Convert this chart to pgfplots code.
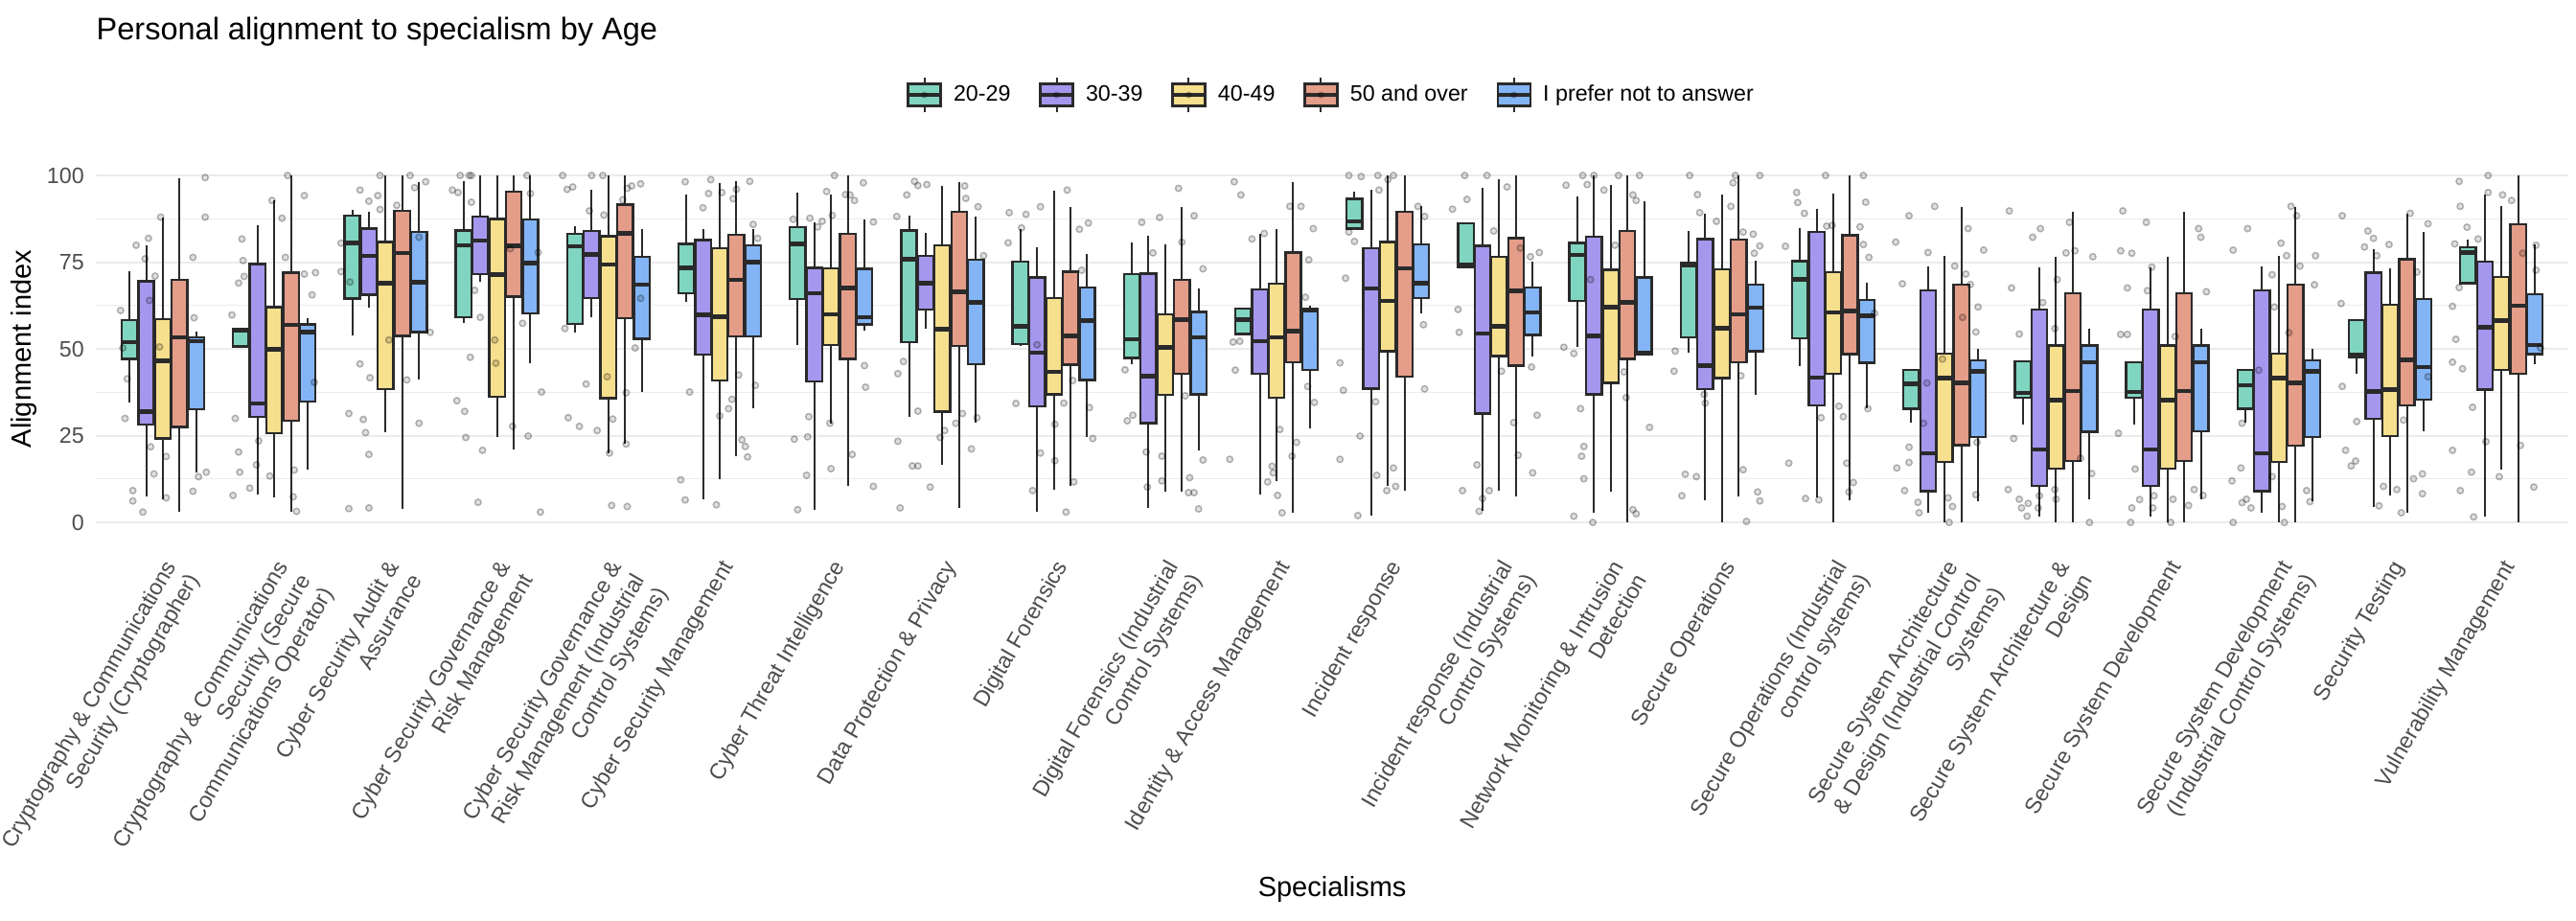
\documentclass[border=0pt]{standalone}
\usepackage{fontspec}
\setmainfont{Liberation Sans}
\usepackage{pgfplots}
\usepackage{pgfplotstable}
\usepgfplotslibrary{statistics}
\pgfplotsset{compat=1.18}

\definecolor{cA}{HTML}{80D5C0}
\definecolor{cB}{HTML}{A597EE}
\definecolor{cC}{HTML}{F6DF8D}
\definecolor{cD}{HTML}{E49D89}
\definecolor{cE}{HTML}{83B4F5}
\definecolor{bxline}{HTML}{2A2A2A}
\definecolor{gridgray}{HTML}{EBEBEB}
\definecolor{tickgray}{HTML}{4D4D4D}

% lower whisker, lower quartile, median, upper quartile, upper whisker
% one table per age group, one row per specialism
\pgfplotstableread{
lw q1 med q3 uw
34.6 47.1 52.0 58.4 72.5
50.7 50.7 55.4 55.9 55.9
53.8 64.5 80.5 88.4 90.0
57.5 59.1 79.9 84.2 98.5
54.8 57.2 79.6 83.1 85.4
63.7 66.0 73.4 80.3 94.6
51.2 64.4 80.3 85.1 95.1
30.5 51.9 75.9 84.2 88.4
50.8 51.4 56.5 75.1 84.5
45.7 47.4 52.8 71.6 80.6
54.3 54.3 58.4 61.6 61.6
84.7 84.7 86.8 93.3 95.4
73.7 73.7 74.3 86.3 86.3
50.5 63.9 77.1 80.6 93.9
48.9 53.4 74.1 74.8 84.0
45.2 53.1 70.0 75.3 84.8
28.8 32.8 40.0 43.9 43.9
28.2 36.0 37.4 46.4 46.4
28.2 36.0 37.6 46.2 46.2
28.8 32.8 39.5 43.9 43.9
42.8 47.7 48.3 58.4 58.4
69.0 69.0 77.8 79.4 81.5
}\gA
\pgfplotstableread{
lw q1 med q3 uw
7.4 28.3 32.0 69.5 79.9
8.0 30.5 34.3 74.5 85.6
61.9 65.6 76.8 84.7 89.6
69.4 71.5 81.3 88.2 100
59.1 64.6 77.3 84.0 96.0
6.7 48.3 59.8 81.4 84.5
3.7 40.6 66.0 73.4 86.5
55.9 61.4 69.0 76.8 83.4
3.2 33.4 48.9 70.6 79.4
4.2 28.6 42.2 71.7 82.6
8.0 42.9 52.2 67.1 83.1
2.1 38.6 67.4 79.1 95.8
3.4 31.4 54.5 79.7 96.5
2.8 36.9 53.8 82.4 100
6.5 38.5 45.2 81.7 89.1
7.1 33.7 41.8 83.8 90.5
2.8 9.0 19.9 66.9 73.9
1.8 10.6 21.0 61.4 73.4
1.8 10.6 21.0 61.4 73.4
2.8 9.0 19.9 66.9 73.9
4.6 29.8 37.7 72.0 78.7
1.8 38.3 56.3 75.1 94.4
}\gB
\pgfplotstableread{
lw q1 med q3 uw
6.7 24.2 46.6 58.6 88.0
7.1 25.8 49.9 62.1 92.8
25.9 38.5 69.0 80.8 100
24.5 36.3 71.4 87.5 100
20.0 35.8 74.3 82.5 100
12.5 40.9 59.3 79.1 97.9
28.6 51.2 60.0 73.2 94.4
16.6 31.9 55.7 79.9 97.0
9.5 36.9 43.4 64.6 95.6
8.8 36.8 50.5 60.0 80.1
12.0 36.0 53.4 68.8 84.5
10.6 49.4 63.9 80.8 100
9.2 48.0 56.5 76.6 98.8
8.8 40.2 62.1 72.8 97.4
0 41.6 56.0 72.9 94.5
0 42.8 60.5 72.2 94.9
0 17.5 41.6 48.7 76.8
0 15.5 35.3 51.0 76.6
0 15.5 35.3 51.0 76.6
0 17.5 41.6 48.7 76.8
7.7 24.9 38.3 62.8 73.2
15.1 44.0 58.2 70.8 91.1
}\gC
\pgfplotstableread{
lw q1 med q3 uw
3.0 27.5 53.3 69.9 99.1
3.2 29.3 57.0 72.0 100
4.0 53.8 77.6 89.8 100
21.0 65.1 79.7 95.4 100
22.6 58.8 83.3 91.6 100
19.1 53.7 69.9 82.9 98.5
10.6 47.1 67.6 83.1 100
4.3 50.8 66.5 89.6 98.2
10.6 45.5 53.7 72.3 90.8
9.0 42.9 58.4 69.9 90.8
2.8 46.2 55.1 77.8 98.2
9.2 42.0 73.2 89.6 100
7.4 45.2 66.7 81.9 100
0 47.1 63.4 84.0 100
7.4 46.2 60.0 81.5 100
6.5 48.5 60.9 82.8 100
0 22.3 40.2 68.5 91.0
0 17.7 37.9 66.0 89.6
0 17.7 37.9 66.0 89.6
0 22.2 40.2 68.5 91.0
2.8 33.7 46.8 75.9 88.9
0 42.8 62.5 85.9 100
}\gD
\pgfplotstableread{
lw q1 med q3 uw
14.3 32.6 52.2 53.3 54.9
15.1 34.9 54.9 57.1 58.8
41.1 54.9 69.3 83.7 98.2
45.9 60.3 74.8 87.4 100
37.6 52.9 68.5 76.6 84.5
32.8 53.7 75.0 79.9 84.7
55.4 57.1 59.1 73.1 87.3
28.8 45.7 63.4 75.7 88.2
24.5 41.1 58.2 67.7 77.3
20.8 36.9 53.3 60.7 67.4
27.1 43.9 61.1 61.7 62.5
60.3 64.6 69.0 80.1 91.1
47.8 54.0 60.5 67.7 75.1
48.3 48.3 48.9 70.6 92.6
36.9 49.4 61.9 68.6 75.4
32.8 46.0 59.6 64.2 69.0
6.0 24.7 43.6 46.8 50.0
6.6 26.1 46.2 51.0 55.9
6.6 26.3 46.2 51.0 55.9
6.0 24.7 43.6 46.8 50.0
26.3 35.4 44.8 64.4 83.7
45.7 48.5 51.2 65.7 80.1
}\gE

% jittered respondents (x = specialism position, y = index)
\pgfplotstableread{
x y
0.62 61.1
0.64 50.3
0.68 41.4
0.66 30.0
0.73 9.2
0.73 6.2
0.82 3.0
0.76 79.9
0.87 81.9
0.84 76.0
0.88 64.0
0.93 71.0
0.89 21.8
0.92 14.0
0.98 88.0
0.97 50.6
1.03 19.0
1.03 7.1
1.27 76.4
1.28 59.0
1.27 9.0
1.32 13.2
1.38 99.4
1.38 88.0
1.39 14.5
1.63 7.8
1.65 30.0
1.68 20.3
1.69 14.5
1.62 59.8
1.71 81.7
1.72 75.5
1.68 69.0
1.73 70.9
1.78 9.9
1.84 16.6
1.86 23.5
1.96 13.4
1.98 92.8
2.07 87.7
2.12 100
2.10 76.4
2.18 15.1
2.17 7.4
2.27 94.2
2.27 71.6
2.34 65.6
2.37 72.0
2.36 40.4
2.20 3.2
2.67 4.0
2.67 31.4
2.60 80.5
2.60 72.3
2.68 69.3
2.77 95.8
2.77 45.7
2.80 29.7
2.82 25.9
2.85 19.6
2.85 4.2
2.85 92.6
2.93 94.2
2.95 90.2
2.95 100
2.86 41.7
3.03 52.6
3.10 91.4
3.19 41.1
3.22 100
3.26 96.5
3.36 98.2
3.30 28.6
3.40 54.8
3.30 82.2
3.60 95.8
3.65 95.1
3.67 100
3.75 100
3.77 100
3.64 35.1
3.71 32.0
3.72 24.5
3.76 47.6
3.83 5.8
3.87 20.8
3.85 59.1
3.77 92.3
3.80 66.9
3.98 52.6
3.99 45.9
4.14 27.7
4.12 78.9
4.27 100
4.30 94.8
4.28 24.9
4.23 57.4
4.40 37.6
4.39 3.0
4.37 77.8
4.59 100
4.63 96.0
4.68 96.7
4.61 55.9
4.64 30.2
4.74 27.7
4.80 39.9
4.85 100
4.83 89.8
4.90 26.5
4.95 100
4.96 88.6
5.01 20.0
5.03 4.9
4.99 42.0
5.04 29.8
5.13 93.0
5.17 96.3
5.21 97.0
5.16 37.4
5.16 22.6
5.17 4.6
5.29 97.6
5.29 64.6
5.24 50.3
5.69 98.2
5.65 12.3
5.69 6.5
5.73 37.6
5.85 90.7
5.90 94.8
5.92 98.8
6.00 30.7
5.97 5.1
6.02 95.1
6.08 32.8
6.11 35.5
6.15 96.0
6.12 93.3
6.17 42.5
6.20 23.8
6.23 21.9
6.25 18.9
6.27 98.3
6.34 81.9
6.32 39.5
6.30 85.9
6.66 87.4
6.67 24.0
6.70 3.7
6.78 13.6
6.79 24.7
6.80 30.5
6.81 87.7
6.88 85.2
6.92 86.8
6.96 95.4
7.00 15.5
7.01 88.5
6.99 28.6
7.03 100
7.13 94.5
7.17 94.4
7.21 92.8
7.19 19.6
7.29 97.9
7.30 45.2
7.31 39.0
7.38 10.4
7.38 86.6
7.59 88.2
7.62 4.2
7.60 23.4
7.60 42.9
7.65 46.4
7.68 94.4
7.75 98.3
7.78 97.1
7.78 32.1
7.86 97.4
7.73 16.3
7.78 16.3
7.89 10.2
8.02 26.5
7.98 24.5
8.12 28.6
8.18 31.4
8.20 97.0
8.21 93.4
8.26 21.2
8.32 91.0
8.37 76.9
8.31 30.2
8.60 89.3
8.59 80.6
8.66 34.3
8.71 84.9
8.75 88.8
8.81 9.2
8.85 51.2
8.88 20.0
8.88 91.0
9.01 17.8
9.01 28.3
9.09 34.4
9.12 95.8
9.11 3.0
9.18 11.7
9.17 40.9
9.23 84.5
9.25 72.7
9.32 33.1
9.31 86.3
9.35 24.2
9.64 44.0
9.66 29.3
9.71 30.9
9.79 86.5
9.83 20.3
9.84 10.2
9.89 77.7
9.95 87.9
9.97 19.1
9.97 12.0
10.12 96.3
10.15 80.8
10.18 36.5
10.22 12.9
10.21 8.6
10.26 8.6
10.26 88.4
10.30 3.9
10.34 73.1
10.34 18.0
10.58 18.2
10.61 52.0
10.63 43.9
10.62 98.2
10.68 94.4
10.67 52.2
10.78 81.7
10.89 83.3
10.92 11.7
10.97 14.3
11.01 7.8
11.03 26.8
11.05 2.8
10.96 16.2
11.12 91.1
11.22 91.1
11.18 23.1
11.14 19.1
11.29 75.7
11.33 84.7
11.26 64.9
11.34 34.6
11.28 39.2
11.57 18.2
11.57 46.0
11.60 38.1
11.62 70.4
11.65 100
11.65 83.7
11.70 81.0
11.73 2.0
11.76 99.7
11.75 24.9
11.91 100
11.92 95.8
11.89 34.8
11.90 13.6
11.99 9.2
12.00 98.8
12.05 100
12.05 15.7
12.07 10.4
12.27 91.1
12.33 88.2
12.33 38.5
12.32 57.0
12.58 90.3
12.63 61.4
12.64 54.8
12.67 9.2
12.69 100
12.71 93.1
12.80 16.6
12.82 3.2
12.85 6.9
12.89 100
12.91 9.2
12.95 84.0
13.02 43.6
13.07 96.7
13.13 28.8
13.17 19.4
13.19 79.1
13.28 76.6
13.29 44.8
13.30 14.3
13.34 30.9
13.36 77.8
13.58 50.5
13.60 97.2
13.67 48.7
13.67 1.8
13.73 32.8
13.74 19.1
13.76 21.9
13.76 12.6
13.75 100
13.79 97.4
13.82 70.0
13.85 100
13.84 0
13.94 95.8
14.04 79.9
14.07 100
14.12 43.4
14.14 36.0
14.20 94.4
14.23 92.8
14.20 3.7
14.23 2.5
14.26 100
14.35 27.4
14.57 43.6
14.58 49.4
14.64 7.7
14.67 13.9
14.71 100
14.77 13.2
14.78 94.5
14.80 89.3
14.84 36.9
14.85 34.4
14.95 86.8
15.08 91.1
15.10 97.9
15.12 100
15.19 83.7
15.19 15.2
15.22 0.3
15.28 83.1
15.29 77.6
15.32 8.8
15.34 6.2
15.34 100
15.34 79.7
15.17 42.3
15.57 79.6
15.60 17.1
15.67 95.1
15.68 92.2
15.74 89.1
15.75 6.9
15.87 6.5
15.89 30.2
15.93 100
15.94 85.4
15.99 85.6
16.05 33.5
16.09 30.5
16.12 17.1
16.14 8.8
16.18 11.5
16.24 85.2
16.27 100
16.29 92.3
16.32 76.4
16.31 32.8
16.27 80.1
16.37 60.3
16.56 80.8
16.62 68.8
16.68 88.4
16.64 9.2
16.57 15.7
16.68 17.3
16.68 21.7
16.76 5.8
16.77 2.8
16.84 40.2
16.85 77.8
16.91 91.1
16.81 28.6
16.98 47.1
17.03 7.1
17.07 4.6
17.04 0
17.09 73.9
17.16 59.1
17.19 71.6
17.21 84.7
17.23 68.6
17.28 54.9
17.30 62.1
17.29 23.1
17.35 78.5
17.28 8.0
17.58 89.8
17.57 9.5
17.60 67.6
17.62 24.2
17.67 54.3
17.67 6.7
17.69 4.2
17.74 1.8
17.75 5.5
17.79 82.2
17.86 84.7
17.88 63.4
17.85 7.7
17.84 4.2
17.99 55.9
17.99 9.5
18.00 6.7
18.01 70.0
18.09 77.7
18.12 86.5
18.17 78.3
18.22 18.5
18.30 0
18.32 14.1
18.33 76.6
18.60 89.8
18.58 78.3
18.56 25.7
18.58 54.2
18.64 54.2
18.64 67.6
18.68 77.6
18.71 15.4
18.68 4.2
18.67 0
18.75 6.6
18.81 86.5
18.82 66.8
18.86 73.6
18.87 4.2
18.88 7.7
19.03 0
19.05 6.7
19.07 53.6
19.19 4.9
19.24 9.5
19.28 84.7
19.30 82.2
19.32 7.8
19.35 66.5
19.59 78.5
19.59 0
19.58 12.0
19.66 15.7
19.67 5.7
19.67 28.6
19.71 6.7
19.72 84.7
19.75 4.2
19.82 43.9
19.94 13.2
19.94 71.4
19.96 62.1
20.02 80.5
20.03 4.6
20.05 0
20.07 76.9
20.09 54.7
20.11 91.1
20.16 88.4
20.19 73.9
20.25 9.2
20.28 6.0
20.32 68.5
20.33 76.9
20.57 88.4
20.56 63.1
20.57 39.2
20.60 20.8
20.65 16.3
20.69 17.7
20.70 29.1
20.77 79.4
20.80 84.0
20.85 81.9
20.88 76.9
20.90 4.8
20.94 10.4
20.99 80.1
21.06 9.5
21.10 2.8
21.12 29.5
21.18 89.1
21.21 12.6
21.29 14.0
21.29 8.3
21.34 86.1
21.34 42.0
21.24 72.2
21.62 98.3
21.63 91.1
21.69 85.1
21.58 80.3
21.62 67.7
21.56 62.3
21.59 52.8
21.56 46.2
21.65 44.3
21.56 20.8
21.63 9.2
21.73 14.5
21.74 33.2
21.75 1.6
21.79 81.7
21.88 100
21.88 95.1
21.86 23.3
22.01 94.4
21.98 13.2
22.09 92.8
22.17 22.2
22.19 77.6
22.29 10.2
22.31 79.9
22.31 72.7
22.35 50.3
}\pts

\pgfplotsset{
  boxplot/every box/.style={line width=0.95pt},
  boxplot/every whisker/.style={line width=0.8pt},
  boxplot/every median/.style={line width=1.8pt},
  bxs/.style={draw=bxline, boxplot/box extend=0.14, boxplot/whisker extend=0},
  boxkey/.style={legend image code/.code={
    \draw[draw=bxline, line width=0.8pt] (6.8pt,-7.2pt) -- (6.8pt,7.2pt);
    \filldraw[fill=#1, draw=bxline, line width=0.95pt] (0pt,-4.6pt) rectangle (13.6pt,4.6pt);
    \draw[draw=bxline, line width=1.8pt] (0pt,0pt) -- (13.6pt,0pt);
    \fill[black, opacity=0.2] (6.8pt,0pt) circle (1.2pt);
  }},
}

% one box: table, row, fill colour, draw position
\newcommand\bxrow[4]{%
  \pgfplotstablegetelem{#2}{lw}\of#1\let\vlw\pgfplotsretval
  \pgfplotstablegetelem{#2}{q1}\of#1\let\vqa\pgfplotsretval
  \pgfplotstablegetelem{#2}{med}\of#1\let\vmd\pgfplotsretval
  \pgfplotstablegetelem{#2}{q3}\of#1\let\vqb\pgfplotsretval
  \pgfplotstablegetelem{#2}{uw}\of#1\let\vuw\pgfplotsretval
  \edef\doplot{\noexpand\addplot[bxs, forget plot, fill=#3,
    boxplot prepared={draw position=#4, lower whisker=\vlw,
      lower quartile=\vqa, median=\vmd, upper quartile=\vqb,
      upper whisker=\vuw}] coordinates {};}%
  \doplot
}

\begin{document}
\begin{tikzpicture}
\begin{axis}[
  name=ax,
  scale only axis,
  width=1031.9pt, height=159.3pt,
  xmin=0.4, xmax=22.6, ymin=-5, ymax=105,
  boxplot/draw direction=y,
  axis line style={draw=none},
  tick style={draw=none},
  major tick length=0pt,
  ytick={0,25,50,75,100},
  minor ytick={12.5,37.5,62.5,87.5},
  ymajorgrids, yminorgrids,
  major grid style={draw=gridgray, line width=0.9pt},
  minor grid style={draw=gridgray, line width=0.45pt},
  /pgf/number format/assume math mode=true,
  ticklabel style={font=\fontsize{9.3}{11}\selectfont, text=tickgray},
  yticklabel style={anchor=east, inner sep=0pt, xshift=-4.8pt},
  xtick={1,...,22},
  xticklabels={
    {Cryptography \& Communications\\Security (Cryptographer)},
    {Cryptography \& Communications\\Security (Secure\\Communications Operator)},
    {Cyber Security Audit \&\\Assurance},
    {Cyber Security Governance \&\\Risk Management},
    {Cyber Security Governance \&\\Risk Management (Industrial\\Control Systems)},
    {Cyber Security Management},
    {Cyber Threat Intelligence},
    {Data Protection \& Privacy},
    {Digital Forensics},
    {Digital Forensics (Industrial\\Control Systems)},
    {Identity \& Access Management},
    {Incident response},
    {Incident response (Industrial\\Control Systems)},
    {Network Monitoring \& Intrusion\\Detection},
    {Secure Operations},
    {Secure Operations (Industrial\\control systems)},
    {Secure System Architecture\\\& Design (Industrial Control\\Systems)},
    {Secure System Architecture \&\\Design},
    {Secure System Development},
    {Secure System Development\\(Industrial Control Systems)},
    {Security Testing},
    {Vulnerability Management}},
  xticklabel style={yshift=-7.5pt, rotate=60, anchor=north east, align=right, inner sep=0pt},
  ylabel={Alignment index},
  ylabel style={at={(axis description cs:-0.029,0.5)}, anchor=center, font=\fontsize{11.6}{13}\selectfont},
  xlabel={Specialisms},
  xlabel style={at={(axis description cs:0.5,-0.9165)}, anchor=center, font=\fontsize{11.6}{13}\selectfont},
  title={Personal alignment to specialism by Age},
  title style={at={(axis description cs:0,1)}, anchor=west, inner sep=0pt, yshift=46.8pt, font=\fontsize{13}{15}\selectfont},
  legend columns=5,
  legend style={at={(axis description cs:0.5,1)}, anchor=center, yshift=26.4pt,
    draw=none, fill=none, font=\fontsize{9.3}{11}\selectfont,
    /tikz/every odd column/.append style={column sep=2.5pt},
    /tikz/every even column/.append style={column sep=9.5pt}},
]
\pgfplotsinvokeforeach{0,...,21}{
  \bxrow{\gA}{#1}{cA}{#1+0.7}
  \bxrow{\gB}{#1}{cB}{#1+0.85}
  \bxrow{\gC}{#1}{cC}{#1+1}
  \bxrow{\gD}{#1}{cD}{#1+1.15}
  \bxrow{\gE}{#1}{cE}{#1+1.3}
}
\addplot[forget plot, only marks, mark=*, mark size=1.3pt,
  mark options={line width=0.6pt, draw=black, fill=black, draw opacity=0.28, fill opacity=0.12}]
  table[x=x, y=y] {\pts};
\addlegendimage{boxkey=cA}\addlegendentry{20-29}
\addlegendimage{boxkey=cB}\addlegendentry{30-39}
\addlegendimage{boxkey=cC}\addlegendentry{40-49}
\addlegendimage{boxkey=cD}\addlegendentry{50 and over}
\addlegendimage{boxkey=cE}\addlegendentry{I prefer not to answer}
\end{axis}
\pgfresetboundingbox
\path[use as bounding box] ([shift={(-40.1pt,-158.7pt)}]ax.south west) rectangle ++(1075.2pt,384pt);
\end{tikzpicture}
\end{document}
